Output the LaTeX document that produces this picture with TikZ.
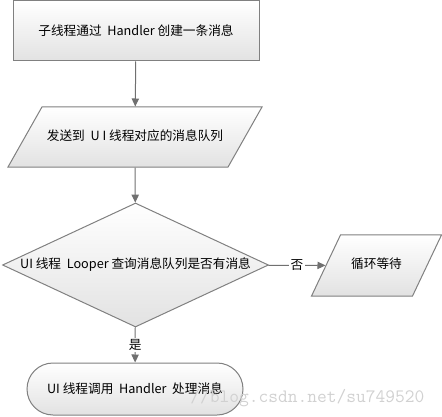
\documentclass[tikz,border=0pt]{standalone}
\usepackage{fontspec}
\setmainfont{Noto Sans CJK SC}
\usepackage{tikz}
\usetikzlibrary{shapes.geometric, shapes.misc, arrows.meta}

\tikzset{
    flowbox/.style={draw=FlowEdge, line width=0.75pt, top color=white, bottom color=FlowFill, inner sep=0pt, font=\fontsize{9.5}{11}\selectfont},
    flowslant/.style={flowbox, trapezium, trapezium stretches body=true, text height=7pt, text depth=2pt},
    flowarrow/.style={draw=FlowLine, line width=0.75pt, -{Triangle[length=6pt,width=5.5pt]}},
    flowlabel/.style={fill=white, inner sep=1pt, font=\fontsize{9.5}{11}\selectfont}
}
\definecolor{FlowEdge}{RGB}{128,128,128}
\definecolor{FlowLine}{RGB}{112,112,112}
\definecolor{FlowFill}{RGB}{226,226,226}

\begin{document}
\begin{tikzpicture}[x=0.75pt,y=0.75pt,yscale=-1,xscale=1]
    \useasboundingbox (0,0) rectangle (442,417);

    %Flowchart: Process
    \node [flowbox, minimum width=184.5pt, minimum height=45pt] (create) at (136,31) {子线程通过\ \ Handler 创建一条消息};
    %Flowchart: Data
    \node [flowslant, trapezium left angle=60.5, trapezium right angle=119.5, inner ysep=18pt, minimum width=190.5pt] (send) at (135,137) {发送到\ \ U I 线程对应的消息队列};
    %Flowchart: Decision
    \node [flowbox, diamond, shape aspect=2.15, minimum width=199.5pt, minimum height=93pt] (query) at (135.5,265) {UI 线程\ \ Looper 查询消息队列是否有消息};
    %Flowchart: Data
    \node [flowslant, trapezium left angle=64.6, trapezium right angle=115.4, inner ysep=18.4pt, minimum width=97.5pt] (wait) at (376.5,265.5) {循环等待};
    %Flowchart: Terminator
    \node [flowbox, rounded rectangle, minimum width=162pt, minimum height=39pt] (handle) at (135,389) {UI 线程调用\ \ Handler\ \ 处理消息};

    %Straight Lines
    \draw [flowarrow] (create) -- (send);
    \draw [flowarrow] (send) -- (query);
    \draw [flowarrow] (query) -- node [flowlabel] {是} (handle);
    \draw [flowarrow] (query) -- node [flowlabel] {否} (wait);

    % Text Node
    \node [anchor=base west, inner sep=0pt, text=black!18, font=\ttfamily\fontsize{14.2}{16}\selectfont] (mark) at (190,402) {//blog.csdn.net/su749520};
\end{tikzpicture}
\end{document}
